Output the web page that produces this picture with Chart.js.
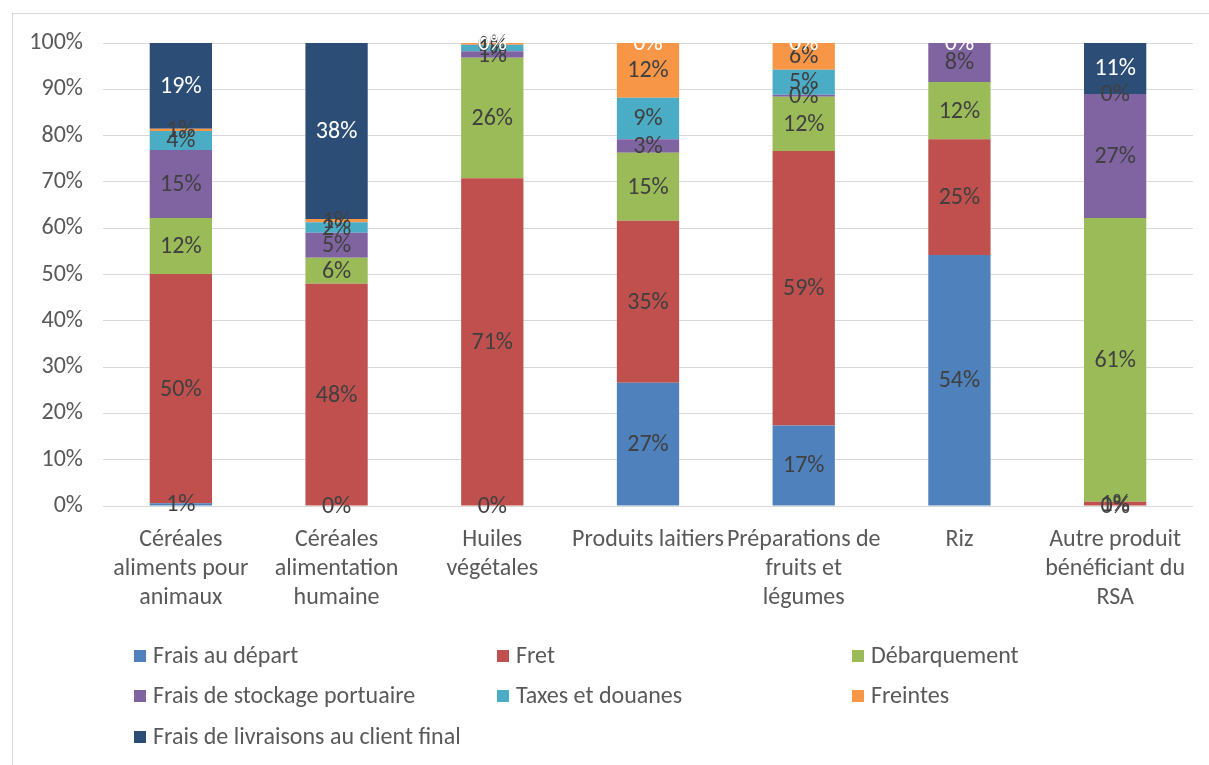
<!DOCTYPE html>
<html>
<head>
<meta charset="utf-8">
<script src="https://cdn.jsdelivr.net/npm/chart.js@4.4.1/dist/chart.umd.min.js"></script>
<style>
  html, body { margin: 0; padding: 0; background: #fff; }
  #wrap { position: absolute; left: 0; top: 0; width: 1209px; height: 765px; }
  #frame { position: absolute; left: 12px; top: 13px; width: 1210px; height: 760px; border: 1px solid #d9d9d9; pointer-events: none; }
</style>
</head>
<body>
<div id="wrap"><canvas id="c" width="1209" height="765"></canvas></div>
<div id="frame"></div>
<script>
const categories = [
  ["Céréales", "aliments pour", "animaux"],
  ["Céréales", "alimentation", "humaine"],
  ["Huiles", "végétales"],
  "Produits laitiers",
  ["Préparations de", "fruits et", "légumes"],
  "Riz",
  ["Autre produit", "bénéficiant du", "RSA"]
];
const seriesNames = [
  "Frais au départ", "Fret", "Débarquement", "Frais de stockage portuaire",
  "Taxes et douanes", "Freintes", "Frais de livraisons au client final"
];
const fraisDepart   = [0.6, 0,    0,    26.6, 17.4, 54.2, 0];
const fret          = [49.5, 48.0, 70.8, 35.0, 59.3, 25.0, 0.9];
const debarquement  = [12.1, 5.6, 26.0, 14.7, 11.7, 12.4, 61.3];
const stockage      = [14.7, 5.4, 1.4, 2.9, 0.4, 8.4, 26.8];
const taxes         = [4.1, 2.3, 1.4, 9.0, 5.4, null, null];
const freintes      = [0.5, 0.7, 0.4, 11.8, 5.8, null, 0];
const livraison     = [18.5, 38.0, 0, 0, 0, 0, 11.0];
const yTicks = [0, 10, 20, 30, 40, 50, 60, 70, 80, 90, 100];

const seriesData = [fraisDepart, fret, debarquement, stockage, taxes, freintes, livraison];
const colors = ["#4F81BD", "#C0504D", "#9BBB59", "#8064A2", "#4BACC6", "#F79646", "#2C4D75"];
const labelColors = ["#404040", "#404040", "#404040", "#404040", "#404040", "#404040", "#ffffff"];

const FONT = "Carlito, 'Liberation Sans Narrow', 'Open Sans', sans-serif";
const FS = 24;

const valueLabels = {
  id: 'valueLabels',
  afterDatasetsDraw(chart) {
    const ctx = chart.ctx;
    ctx.save();
    ctx.font = FS + "px " + FONT;
    ctx.textAlign = 'center';
    ctx.textBaseline = 'middle';
    chart.data.datasets.forEach((ds, i) => {
      const meta = chart.getDatasetMeta(i);
      meta.data.forEach((bar, j) => {
        const v = ds.data[j];
        if (v === null || v === undefined) return;
        const p = bar.getProps(['x', 'y', 'base'], true);
        ctx.fillStyle = labelColors[i];
        ctx.fillText(Math.round(v) + '%', p.x, (p.y + p.base) / 2 + 1);
      });
    });
    ctx.restore();
  }
};

const gridLegend = {
  id: 'gridLegend',
  afterDraw(chart) {
    const ctx = chart.ctx;
    const cols = [134, 497, 852];
    const rows = [656, 696, 737];
    ctx.save();
    ctx.font = FS + "px " + FONT;
    ctx.textBaseline = 'middle';
    ctx.textAlign = 'left';
    chart.data.datasets.forEach((ds, i) => {
      const x = cols[i % 3], y = rows[Math.floor(i / 3)];
      ctx.fillStyle = ds.backgroundColor;
      ctx.fillRect(x, y - 6, 12, 12);
      ctx.fillStyle = '#595959';
      ctx.fillText(ds.label, x + 19, y + 1);
    });
    ctx.restore();
  }
};

new Chart(document.getElementById('c'), {
  type: 'bar',
  data: {
    labels: categories,
    datasets: seriesNames.map((name, i) => ({
      label: name,
      data: seriesData[i],
      backgroundColor: colors[i],
      borderWidth: 0,
      categoryPercentage: 1.0,
      barPercentage: 0.4
    }))
  },
  options: {
    responsive: false,
    animation: false,
    devicePixelRatio: 1,
    layout: { padding: { left: 0, right: 16, top: 43, bottom: 130 } },
    plugins: { legend: { display: false }, tooltip: { enabled: false } },
    scales: {
      x: {
        stacked: true,
        grid: { display: false },
        border: { display: false },
        ticks: { color: '#595959', font: { family: FONT, size: FS, lineHeight: 1.22 }, maxRotation: 0, autoSkip: false, padding: 11 },
        afterFit(scale) { scale.height = 129; }
      },
      y: {
        stacked: true,
        min: 0, max: 100,
        afterBuildTicks(scale) { scale.ticks = yTicks.map(v => ({ value: v })); },
        grid: { color: '#d9d9d9', lineWidth: 1, drawTicks: false },
        border: { display: false },
        ticks: { color: '#595959', font: { family: FONT, size: FS }, padding: 20, callback: v => v + '%' },
        afterFit(scale) { scale.width = 103; }
      }
    }
  },
  plugins: [valueLabels, gridLegend]
});
</script>
</body>
</html>
